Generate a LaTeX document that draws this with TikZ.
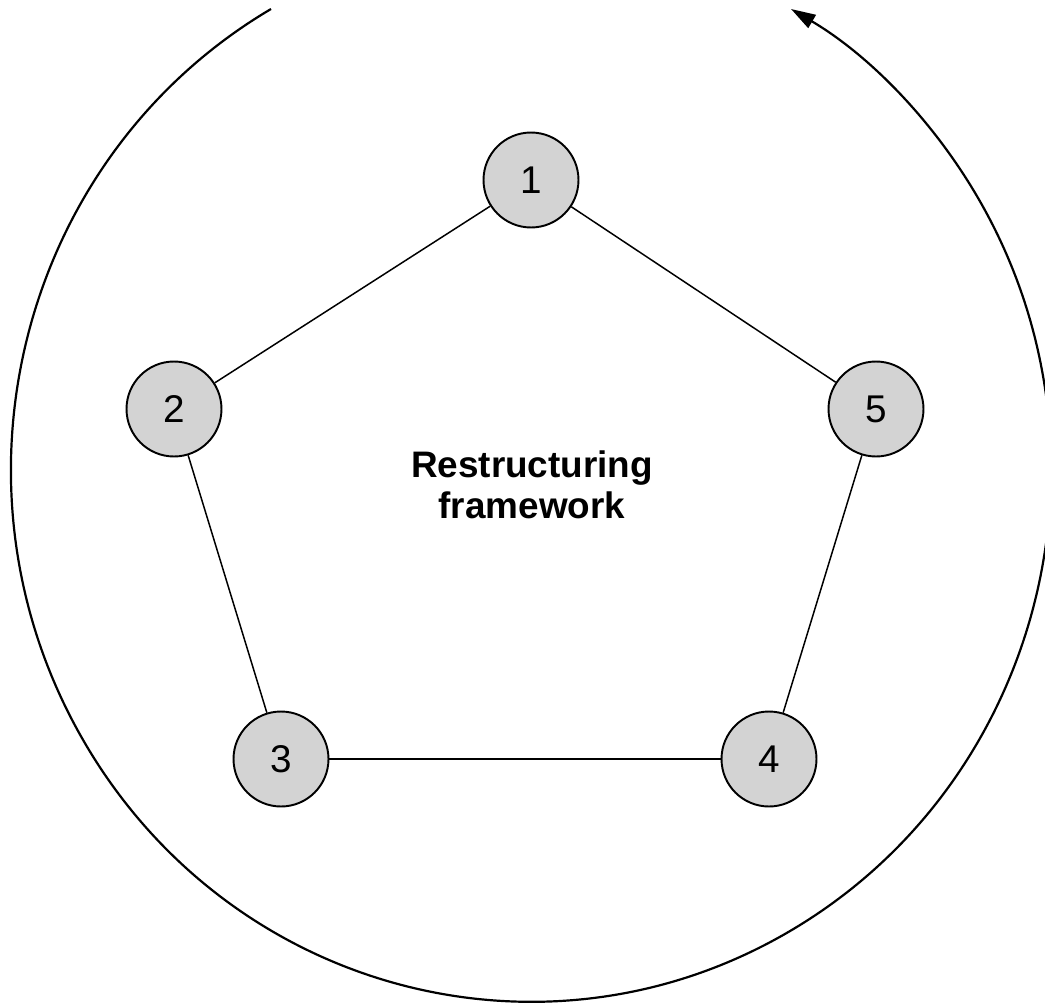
\documentclass[tikz,border=0pt]{standalone}
\usepackage{fontspec}
\setmainfont{Liberation Sans}
\usepackage{xcolor}
\usetikzlibrary{arrows.meta}
\definecolor{Ink}{HTML}{000000}
\definecolor{Shade}{HTML}{D3D3D3}

\begin{document}
\begin{tikzpicture}[
      x=0.02cm, y=-0.02cm,
      phase/.style={circle, draw=Ink, fill=Shade, line width=1.1pt, minimum size=1.9cm, inner sep=0pt, font=\fontsize{22}{26}\selectfont},
      link/.style={draw=Ink, line width=0.85pt},
      loop/.style={-{Triangle[length=14pt, width=8.5pt]}, line width=1.25pt, draw=Ink}
    ]
    \useasboundingbox (0,0) rectangle (1045,1004);
    \node[phase] (p1) at (531,180) {1};
    \node[phase] (p2) at (174,409) {2};
    \node[phase] (p3) at (281,759) {3};
    \node[phase] (p4) at (769,759) {4};
    \node[phase] (p5) at (876,409) {5};
    \node[align=center, font=\fontsize{21}{23}\selectfont\bfseries] (core) at (532,485) {Restructuring\\framework};

    \draw[link] (p1) -- (p2);
    \draw[link] (p2) -- (p3);
    \draw[link] (p3) -- (p4);
    \draw[link] (p4) -- (p5);
    \draw[link] (p5) -- (p1);

    % outer cycle, open at the top
    \coordinate (cycstart) at (271,9);
    \draw[loop] (cycstart) arc[start angle=240, end angle=-60, x radius=520, y radius=532];
  \end{tikzpicture}
\end{document}
